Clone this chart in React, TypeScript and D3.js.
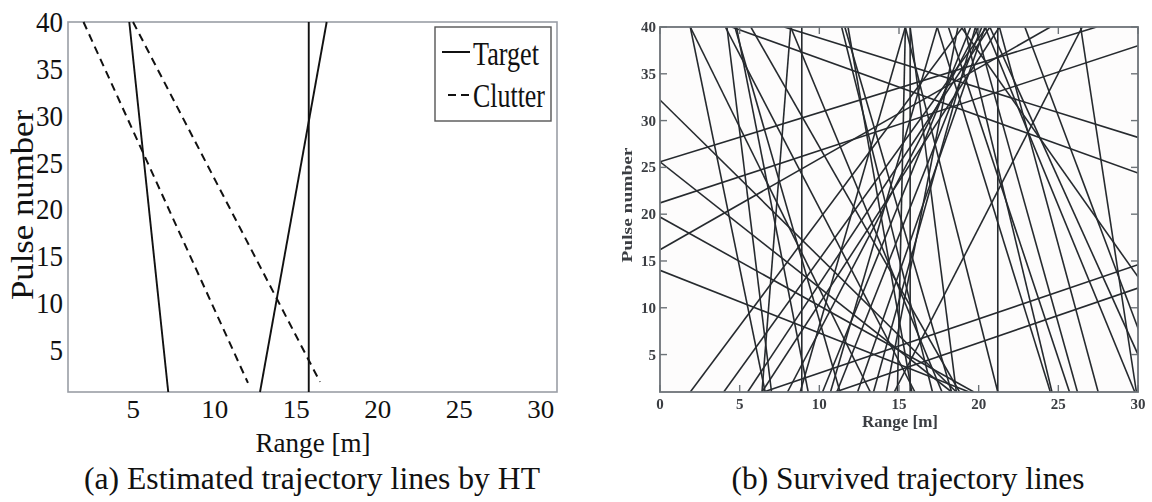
import React from "react";
import * as d3 from "d3";

const W = 1152;
const H = 502;

// ---- panel (a): lines estimated by the Hough transform ----
const rangeTicksA = [5, 10, 15, 20, 25, 30];
const pulseTicksA = [5, 10, 15, 20, 25, 30, 35, 40];
// [range, pulse] at the start and end of each estimated line
const targetLines: [number, number, number, number][] = [
  [4.76, 40, 7.15, 0.5],
  [15.77, 40, 15.77, 0.5],
  [16.87, 40, 12.78, 0.5],
];
const clutterLines: [number, number, number, number][] = [
  [1.95, 40, 12.04, 1.47],
  [4.99, 40, 16.46, 1.58],
];
const legendItems = ["Target", "Clutter"];

// ---- panel (b): lines that survived ----
const rangeTicksB = [0, 5, 10, 15, 20, 25, 30];
const pulseTicksB = [5, 10, 15, 20, 25, 30, 35, 40];
// lines crossing the top and bottom borders: [range at pulse 40, range at pulse 1]
const steepTracks: [number, number][] = [
  [1.9, 6.6], [1.9, 13.2], [4.1, 16.0], [4.2, 7.0], [4.7, 11.3], [4.8, 9.3],
  [5.7, 18.8], [8.2, 6.4], [8.9, 8.9], [8.2, 17.7], [11.4, 17.1], [11.6, 18.3],
  [11.8, 15.8], [15.4, 14.9], [15.7, 15.7], [15.4, 21.2], [17.4, 24.5], [18.1, 25.7],
  [19.1, 24.6], [19.8, 26.2], [20.4, 29.8], [21.3, 27.5], [22.9, 31.5], [26.4, 29.9],
  [26.5, 14.7], [19.0, 1.9], [20.5, 4.0], [20.7, 5.5], [21.3, 6.4], [20.0, 8.0],
  [19.5, 10.2], [20.2, 11.1], [15.4, 8.8], [17.4, 10.7], [19.8, 13.4], [18.7, 14.2],
  [20.4, 12.4], [21.2, 21.2], [15.7, 18.6],
];
// lines entering or leaving through a side border: [range1, pulse1, range2, pulse2]
const sideTracks: [number, number, number, number][] = [
  [0, 32.2, 18.6, 1], [0, 25.6, 27.4, 40], [0, 25.6, 18.3, 1], [0, 21.2, 30, 38.0],
  [0, 19.7, 19.7, 1], [0, 16.2, 24.5, 40], [0, 14.0, 19.4, 1], [4.5, 40, 30, 24.4],
  [7.8, 40, 30, 28.2], [6.5, 1, 30, 14.6], [11, 1, 30, 12.1], [18.9, 40, 30, 13.3],
  [20.7, 40, 30, 5],
];

const serif = "'Liberation Serif', 'Times New Roman', serif";

type TProps = {
  x: number;
  y: number;
  size: number;
  len?: number;
  anchor?: "start" | "middle" | "end";
  rotate?: number;
  weight?: string | number;
  fill?: string;
  children: string;
};
function T({ x, y, size, len, anchor = "start", rotate = 0, weight = "normal", fill = "#111", children }: TProps) {
  return (
    <text
      x={x}
      y={y}
      fontFamily={serif}
      fontSize={size}
      fontWeight={weight}
      fill={fill}
      textAnchor={anchor}
      textLength={len}
      lengthAdjust={len ? "spacingAndGlyphs" : undefined}
      transform={rotate ? `rotate(${rotate} ${x} ${y})` : undefined}
    >
      {children}
    </text>
  );
}

function PanelA() {
  const x = d3.scaleLinear().domain([1, 31]).range([68, 557]);
  const y = d3.scaleLinear().domain([0.5, 40]).range([392, 22]);
  const line = d3.line<[number, number]>().x((d) => x(d[0])).y((d) => y(d[1]));
  const [x0, x1] = x.range();
  const [y0, y1] = y.range();
  return (
    <g>
      <rect x={x0} y={y1} width={x1 - x0} height={y0 - y1} fill="#fff" stroke="#9a9ea6" strokeWidth={1.6} />
      {targetLines.map((l, i) => (
        <path key={"t" + i} d={line([[l[0], l[1]], [l[2], l[3]]]) || ""} stroke="#111" strokeWidth={1.9} fill="none" />
      ))}
      {clutterLines.map((l, i) => (
        <path key={"c" + i} d={line([[l[0], l[1]], [l[2], l[3]]]) || ""} stroke="#111" strokeWidth={2} strokeDasharray="8 5.5" fill="none" />
      ))}
      {pulseTicksA.map((t) => (
        <T key={"py" + t} x={63} y={y(t) + 10} size={30} anchor="end" len={String(t).length * 13.5}>
          {String(t)}
        </T>
      ))}
      {rangeTicksA.map((t) => (
        <T key={"rx" + t} x={x(t)} y={418} size={26} anchor="middle" len={String(t).length * 13.5}>
          {String(t)}
        </T>
      ))}
      <T x={313} y={452} size={28} anchor="middle" len={115}>Range [m]</T>
      <T x={33} y={205} size={31} anchor="middle" rotate={-90} len={190}>Pulse number</T>
      {/* legend */}
      <rect x={435} y={27} width={116} height={94} fill="#fff" stroke="#555" strokeWidth={1.4} />
      <line x1={442} x2={470} y1={52} y2={52} stroke="#111" strokeWidth={2} />
      <line x1={448} x2={471} y1={95} y2={95} stroke="#111" strokeWidth={2} strokeDasharray="8 5" />
      <T x={473} y={65} size={33} len={66}>{legendItems[0]}</T>
      <T x={473} y={107} size={33} len={72}>{legendItems[1]}</T>
    </g>
  );
}

function PanelB() {
  const x = d3.scaleLinear().domain([0, 30]).range([660, 1138]);
  const y = d3.scaleLinear().domain([1, 40]).range([392, 27]);
  const line = d3.line<[number, number]>().x((d) => x(d[0])).y((d) => y(d[1]));
  const [x0, x1] = x.range();
  const [y0, y1] = y.range();
  const segs: [number, number][][] = [
    ...steepTracks.map((s) => [[s[0], 40], [s[1], 1]] as [number, number][]),
    ...sideTracks.map((s) => [[s[0], s[1]], [s[2], s[3]]] as [number, number][]),
  ];
  const tk = 7;
  return (
    <g filter="url(#soft)">
      <clipPath id="plotB">
        <rect x={x0} y={y1} width={x1 - x0} height={y0 - y1} />
      </clipPath>
      <rect x={x0} y={y1} width={x1 - x0} height={y0 - y1} fill="#fdfcfc" />
      <g clipPath="url(#plotB)">
        {segs.map((s, i) => (
          <path key={i} d={line(s) || ""} stroke="#272b2f" strokeWidth={1.6} fill="none" />
        ))}
      </g>
      <rect x={x0} y={y1} width={x1 - x0} height={y0 - y1} fill="none" stroke="#6d7378" strokeWidth={1.8} />
      {pulseTicksB.map((t) => (
        <g key={"yt" + t}>
          <line x1={x0} x2={x0 + tk} y1={y(t)} y2={y(t)} stroke="#6d7378" strokeWidth={1.4} />
          <line x1={x1} x2={x1 - tk} y1={y(t)} y2={y(t)} stroke="#6d7378" strokeWidth={1.4} />
          <T x={656} y={y(t) + 5} size={15} anchor="end" weight="bold" fill="#3a3d42">{String(t)}</T>
        </g>
      ))}
      {rangeTicksB.map((t) => (
        <g key={"xt" + t}>
          <line x1={x(t)} x2={x(t)} y1={y0} y2={y0 - tk} stroke="#6d7378" strokeWidth={1.4} />
          <line x1={x(t)} x2={x(t)} y1={y1} y2={y1 + tk} stroke="#6d7378" strokeWidth={1.4} />
          <T x={x(t)} y={409} size={15} anchor="middle" weight="bold" fill="#3a3d42">{String(t)}</T>
        </g>
      ))}
      <T x={900} y={427} size={16} anchor="middle" weight="bold" fill="#3a3d42" len={76}>Range [m]</T>
      <T x={632} y={205} size={15} anchor="middle" rotate={-90} weight="bold" fill="#3a3d42" len={115}>Pulse number</T>
    </g>
  );
}

export default function App() {
  return (
    <svg width={W} height={H} viewBox={`0 0 ${W} ${H}`} style={{ display: "block", position: "absolute", left: 0, top: 0, background: "#fff" }}>
      <defs>
        <filter id="soft" x="-5%" y="-5%" width="110%" height="110%">
          <feGaussianBlur stdDeviation={0.45} />
        </filter>
      </defs>
      <rect width={W} height={H} fill="#fff" />
      <PanelA />
      <PanelB />
      <T x={312} y={489} size={31} anchor="middle" len={456}>(a) Estimated trajectory lines by HT</T>
      <T x={908} y={489} size={31} anchor="middle" len={353}>(b) Survived trajectory lines</T>
    </svg>
  );
}
